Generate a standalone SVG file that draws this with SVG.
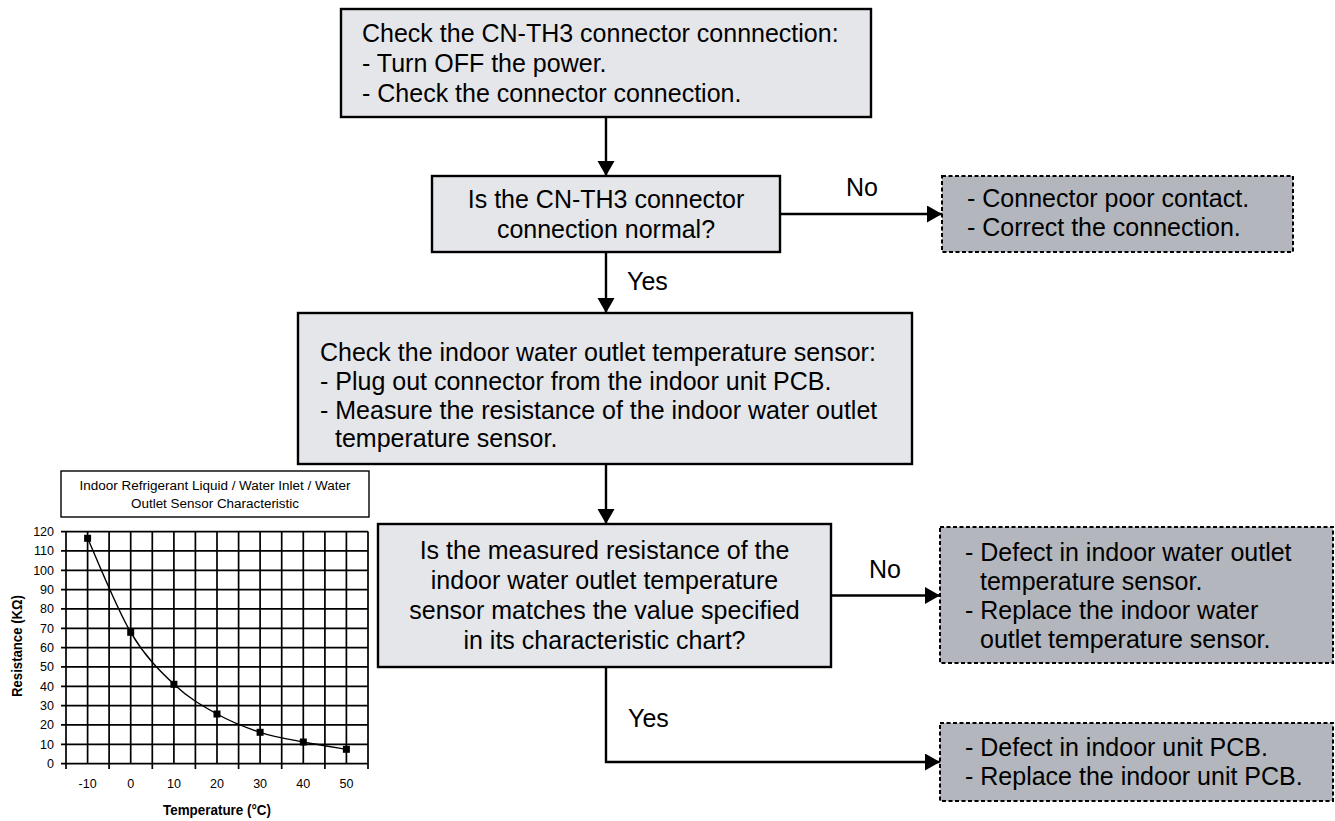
<svg xmlns="http://www.w3.org/2000/svg" width="1335" height="821" viewBox="0 0 1335 821">
<defs>
<style>
.box{fill:#e5e6ea;stroke:#000;stroke-width:2.4}
.res{fill:#b3b6bc;stroke:#000;stroke-width:2;stroke-dasharray:4 2.5}
.t{font-family:"Liberation Sans",Arial,sans-serif;font-size:25px;fill:#000}
.m{text-anchor:middle}
.conn{fill:none;stroke:#000;stroke-width:2.4}
.grid{stroke:#000;stroke-width:1.7;fill:none}
.ct{font-family:"Liberation Sans",Arial,sans-serif;font-size:12.5px;fill:#000}
.cb{font-family:"Liberation Sans",Arial,sans-serif;font-size:14.5px;font-weight:bold;fill:#000}
</style>
<marker id="ah" markerUnits="userSpaceOnUse" markerWidth="16" markerHeight="18" refX="15" refY="8.5" orient="auto">
<path d="M0,0 L15,8.5 L0,17 z" fill="#000"/>
</marker>
</defs>
<rect width="1335" height="821" fill="#fff"/>

<g id="connectors">
<line class="conn" x1="606" y1="117" x2="606" y2="176" marker-end="url(#ah)"/>
<line class="conn" x1="780" y1="214" x2="942" y2="214" marker-end="url(#ah)"/>
<line class="conn" x1="606" y1="252" x2="606" y2="313" marker-end="url(#ah)"/>
<line class="conn" x1="606" y1="464" x2="606" y2="524" marker-end="url(#ah)"/>
<line class="conn" x1="831" y1="595.5" x2="940" y2="595.5" marker-end="url(#ah)"/>
<polyline class="conn" points="606,667 606,762 940,762" marker-end="url(#ah)"/>
<text class="t m" x="862" y="196">No</text>
<text class="t" x="627" y="290">Yes</text>
<text class="t m" x="885" y="578">No</text>
<text class="t" x="628" y="727">Yes</text>
</g>

<g id="n1">
<rect class="box" x="341" y="9" width="530" height="108"/>
<text class="t" x="362" y="42">Check the CN-TH3 connector connnection:</text>
<text class="t" x="362" y="72">- Turn OFF the power.</text>
<text class="t" x="362" y="102">- Check the connector connection.</text>
</g>

<g id="n2">
<rect class="box" x="432" y="176" width="348" height="76"/>
<text class="t m" x="606" y="208">Is the CN-TH3 connector</text>
<text class="t m" x="606" y="238">connection normal?</text>
</g>

<g id="r1">
<rect class="res" x="942" y="176" width="351" height="76"/>
<text class="t" x="967" y="207">- Connector poor contact.</text>
<text class="t" x="967" y="236">- Correct the connection.</text>
</g>

<g id="n3">
<rect class="box" x="298" y="313" width="614" height="151"/>
<text class="t" x="320" y="361">Check the indoor water outlet temperature sensor:</text>
<text class="t" x="320" y="390">- Plug out connector from the indoor unit PCB.</text>
<text class="t" x="320" y="419">- Measure the resistance of the indoor water outlet</text>
<text class="t" x="335" y="447">temperature sensor.</text>
</g>

<g id="n4">
<rect class="box" x="378" y="524" width="453" height="143"/>
<text class="t m" x="604.5" y="559">Is the measured resistance of the</text>
<text class="t m" x="604.5" y="589">indoor water outlet temperature</text>
<text class="t m" x="604.5" y="619">sensor matches the value specified</text>
<text class="t m" x="604.5" y="649">in its characteristic chart?</text>
</g>

<g id="r2">
<rect class="res" x="940" y="527" width="393" height="136"/>
<text class="t" x="965" y="561">- Defect in indoor water outlet</text>
<text class="t" x="980" y="590">temperature sensor.</text>
<text class="t" x="965" y="619">- Replace the indoor water</text>
<text class="t" x="980" y="648">outlet temperature sensor.</text>
</g>

<g id="r3">
<rect class="res" x="940" y="723" width="393" height="78"/>
<text class="t" x="965" y="756">- Defect in indoor unit PCB.</text>
<text class="t" x="965" y="785">- Replace the indoor unit PCB.</text>
</g>

<g id="chart">
<rect x="61" y="471" width="308" height="46" fill="#fff" stroke="#000" stroke-width="1.4"/>
<text class="ct m" x="215" y="490" font-size="15" textLength="271" lengthAdjust="spacingAndGlyphs">Indoor Refrigerant Liquid / Water Inlet / Water</text>
<text class="ct m" x="215" y="508" font-size="15" textLength="168" lengthAdjust="spacingAndGlyphs">Outlet Sensor Characteristic</text>
<path class="grid" d="M61,531.6H368 M61,550.9H368 M61,570.3H368 M61,589.6H368 M61,608.9H368 M61,628.3H368 M61,647.6H368 M61,666.9H368 M61,686.3H368 M61,705.6H368 M61,724.9H368 M61,744.3H368 M61,763.6H368"/>
<path class="grid" d="M66,531.6V769 M87.6,531.6V763.6 M109.1,531.6V769 M130.7,531.6V763.6 M152.3,531.6V769 M173.9,531.6V763.6 M195.4,531.6V769 M217,531.6V763.6 M238.6,531.6V769 M260.1,531.6V763.6 M281.7,531.6V769 M303.3,531.6V763.6 M324.9,531.6V769 M346.4,531.6V763.6 M368,531.6V769"/>
<g class="ct" text-anchor="end">
<text x="54" y="536">120</text>
<text x="54" y="555.3">110</text>
<text x="54" y="574.7">100</text>
<text x="54" y="594">90</text>
<text x="54" y="613.3">80</text>
<text x="54" y="632.7">70</text>
<text x="54" y="652">60</text>
<text x="54" y="671.3">50</text>
<text x="54" y="690.7">40</text>
<text x="54" y="710">30</text>
<text x="54" y="729.3">20</text>
<text x="54" y="748.7">10</text>
<text x="54" y="768">0</text>
</g>
<g class="ct" text-anchor="middle">
<text x="87.6" y="788">-10</text>
<text x="130.7" y="788">0</text>
<text x="173.9" y="788">10</text>
<text x="217" y="788">20</text>
<text x="260.1" y="788">30</text>
<text x="303.3" y="788">40</text>
<text x="346.4" y="788">50</text>
</g>
<text class="cb m" x="217" y="815" textLength="108" lengthAdjust="spacingAndGlyphs">Temperature (°C)</text>
<text class="cb m" transform="translate(22,646) rotate(-90)" x="0" y="0" textLength="102" lengthAdjust="spacingAndGlyphs">Resistance (KΩ)</text>
<path fill="none" stroke="#000" stroke-width="1.4" d="M87.6,538.3 C94.8,554 116.3,608 130.7,632.3 C145.1,656.6 159.5,670.7 173.9,684.3 C188.3,697.9 202.6,706 217,714 C231.4,722 245.7,727.6 260.1,732.3 C274.5,737 288.9,739.2 303.3,742 C317.7,744.8 339.2,748.1 346.4,749.3"/>
<g fill="#000">
<rect x="84.1" y="534.8" width="7" height="7"/>
<rect x="127.2" y="628.8" width="7" height="7"/>
<rect x="170.4" y="680.8" width="7" height="7"/>
<rect x="213.5" y="710.5" width="7" height="7"/>
<rect x="256.6" y="728.8" width="7" height="7"/>
<rect x="299.8" y="738.5" width="7" height="7"/>
<rect x="342.9" y="745.8" width="7" height="7"/>
</g>
</g>
</svg>
